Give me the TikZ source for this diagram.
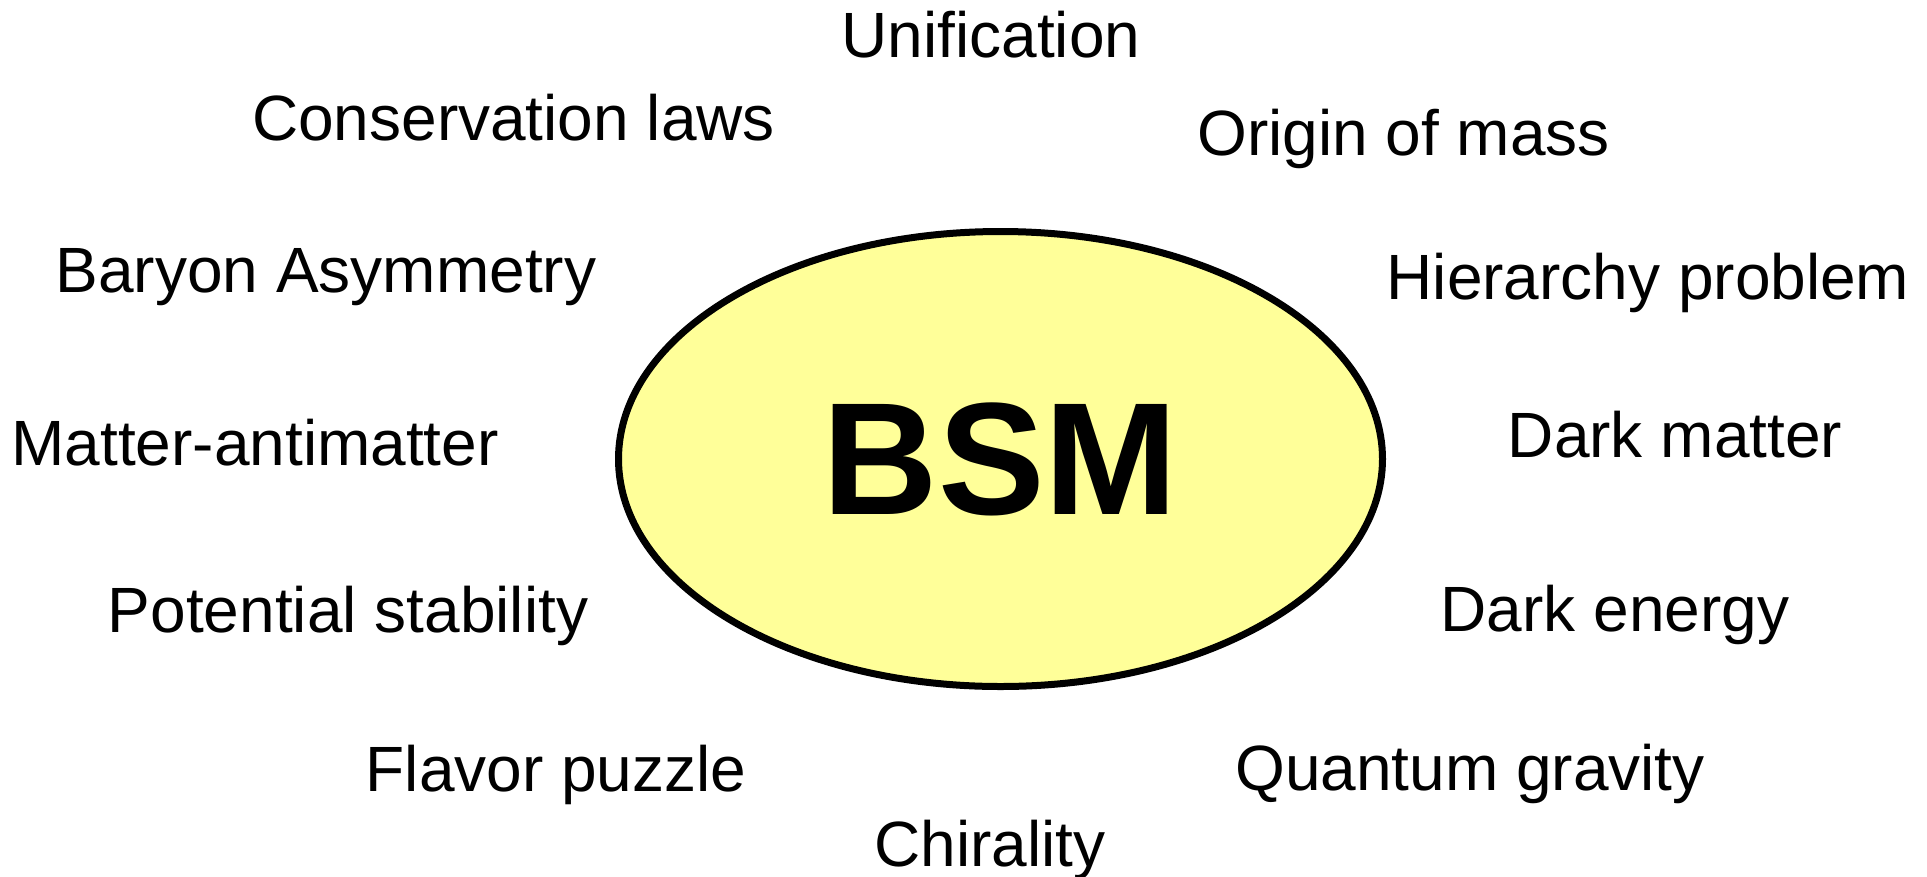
\documentclass[tikz,border=0pt]{standalone}
\usepackage{fontspec}
\setmainfont{Liberation Sans}
\usetikzlibrary{shapes.geometric}
\definecolor{bsmfill}{HTML}{FFFF99}
\begin{document}
\begin{tikzpicture}[x=1pt,y=-1pt,
  topic/.style={anchor=base,inner sep=0pt,font=\fontsize{64}{76}\selectfont},
  core/.style={ellipse,draw=black,line width=7pt,fill=bsmfill,inner sep=0pt,
    minimum width=764pt,minimum height=455pt,
    font=\fontsize{160}{182}\selectfont\bfseries}]
\useasboundingbox (0,0) rectangle (1927,876);
\node[core] (bsm) at (1000.5,459) {BSM};
\node[topic] (unif) at (991,57) {Unification};
\node[topic] (cons) at (513.5,140) {Conservation laws};
\node[topic] (mass) at (1403.5,155) {Origin of mass};
\node[topic] (bary) at (326,292) {Baryon Asymmetry};
\node[topic] (hier) at (1648,299) {Hierarchy problem};
\node[topic] (matt) at (255,465) {Matter-antimatter};
\node[topic] (dm) at (1675,457) {Dark matter};
\node[topic] (pot) at (348,632) {Potential stability};
\node[topic] (de) at (1615,631) {Dark energy};
\node[topic] (flav) at (556,791) {Flavor puzzle};
\node[topic] (qg) at (1470,790) {Quantum gravity};
\node[topic] (chir) at (990,866) {Chirality};
\end{tikzpicture}
\end{document}
